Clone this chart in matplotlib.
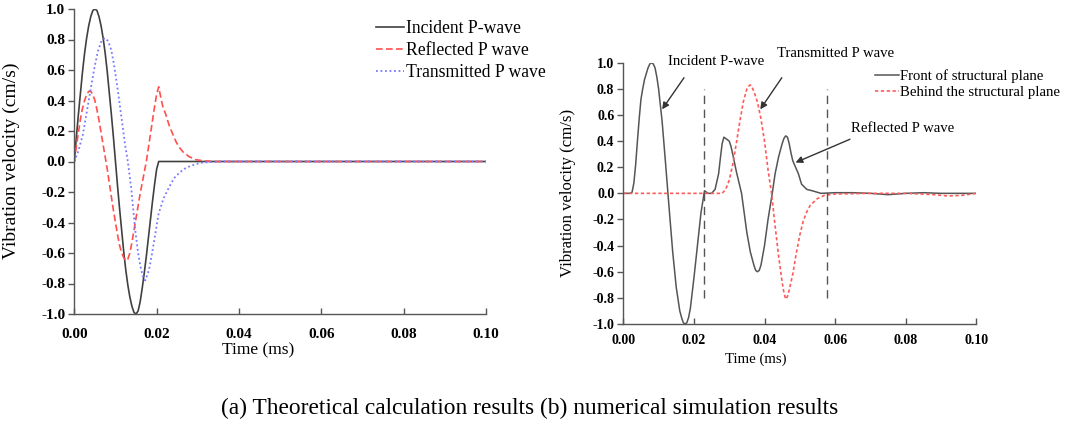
import matplotlib
matplotlib.use("Agg")
import matplotlib.pyplot as plt

plt.rcParams["font.family"] = ["Liberation Serif", "DejaVu Serif"]

# (a) theoretical calculation
t_inc = [0.0, 0.0005, 0.0010, 0.0015, 0.0020, 0.0025, 0.0030, 0.0035, 0.0040,
         0.0045, 0.0050, 0.0055, 0.0060, 0.0065, 0.0070, 0.0075, 0.0080,
         0.0085, 0.0090, 0.0095, 0.0100, 0.0105, 0.0110, 0.0115, 0.0120,
         0.0125, 0.0130, 0.0135, 0.0140, 0.0145, 0.0150, 0.0155, 0.0160,
         0.0165, 0.0170, 0.0175, 0.0180, 0.0185, 0.0190, 0.0195, 0.0200,
         0.0205, 0.1]
v_inc = [0.0, 0.16, 0.31, 0.45, 0.59, 0.71, 0.81, 0.89, 0.95,
         0.99, 1.00, 0.99, 0.95, 0.89, 0.81, 0.71, 0.59,
         0.45, 0.31, 0.16, 0.0, -0.16, -0.31, -0.45, -0.59,
         -0.71, -0.81, -0.89, -0.95, -0.99, -1.00, -0.98, -0.92,
         -0.83, -0.73, -0.62, -0.50, -0.38, -0.26, -0.15, -0.05,
         0.0, 0.0]

t_ref = [0.0, 0.0005, 0.0010, 0.0015, 0.0020, 0.0025, 0.0030, 0.0035, 0.0040,
         0.0045, 0.0050, 0.0055, 0.0060, 0.0065, 0.0070, 0.0075, 0.0080,
         0.0085, 0.0090, 0.0095, 0.0100, 0.0105, 0.0110, 0.0115, 0.0120,
         0.0125, 0.0130, 0.0135, 0.0140, 0.0145, 0.0150, 0.0155, 0.0160,
         0.0165, 0.0170, 0.0175, 0.0180, 0.0185, 0.0190, 0.0195, 0.0200,
         0.0205, 0.0210, 0.0215, 0.0222, 0.0230, 0.0239, 0.0247, 0.0255,
         0.0265, 0.0280, 0.0295, 0.0315, 0.0340, 0.1]
v_ref = [0.0, 0.10, 0.19, 0.28, 0.35, 0.40, 0.44, 0.46, 0.46,
         0.44, 0.40, 0.34, 0.27, 0.19, 0.11, 0.03, -0.05,
         -0.14, -0.23, -0.32, -0.40, -0.48, -0.55, -0.60, -0.63,
         -0.65, -0.64, -0.60, -0.53, -0.45, -0.37, -0.29, -0.21,
         -0.14, -0.07, 0.0, 0.09, 0.18, 0.27, 0.36, 0.44,
         0.49, 0.42, 0.36, 0.31, 0.24, 0.18, 0.13, 0.093,
         0.06, 0.03, 0.012, 0.004, 0.0, 0.0]

t_tra = [0.0, 0.0010, 0.0021, 0.0030, 0.0042, 0.0050, 0.0058, 0.0066, 0.0074,
         0.0082, 0.0090, 0.0098, 0.0107, 0.0115, 0.0123, 0.0130, 0.0138,
         0.0148, 0.0155, 0.0160, 0.0166, 0.0172, 0.0178, 0.0183, 0.0189,
         0.0197, 0.0205, 0.0217, 0.0230, 0.0242, 0.0254, 0.0266, 0.0279,
         0.0295, 0.0312, 0.0350, 0.1]
v_tra = [0.0, 0.07, 0.18, 0.32, 0.51, 0.63, 0.73, 0.79, 0.81,
         0.79, 0.73, 0.61, 0.44, 0.28, 0.116, 0.0, -0.17,
         -0.45, -0.60, -0.68, -0.75, -0.78, -0.74, -0.69, -0.60,
         -0.47, -0.34, -0.24, -0.17, -0.11, -0.077, -0.05, -0.033,
         -0.017, -0.007, 0.0, 0.0]

# (b) numerical simulation
t_front = [0.0, 0.0020, 0.0025, 0.0030, 0.0035, 0.0040, 0.0045, 0.0050, 0.0055,
           0.0060, 0.0070, 0.0075, 0.0080, 0.0085, 0.0090, 0.0095, 0.0100,
           0.0110, 0.0120, 0.0130, 0.0140, 0.0150, 0.0160, 0.0165, 0.0170,
           0.0175, 0.0180, 0.0185, 0.0190, 0.0200, 0.0210, 0.0220, 0.0230,
           0.0240, 0.0250, 0.0260, 0.0270, 0.0275, 0.0280, 0.0285, 0.0290,
           0.0295, 0.0300, 0.0305, 0.0310, 0.0320, 0.0335, 0.0350, 0.0360,
           0.0370, 0.0375, 0.0380, 0.0385, 0.0390, 0.0400, 0.0410, 0.0422,
           0.0430, 0.0440, 0.0450, 0.0455, 0.0460, 0.0465, 0.0470, 0.0475,
           0.0480, 0.0488, 0.0496, 0.0505, 0.0520, 0.0535, 0.0560, 0.0600,
           0.0650, 0.0700, 0.0750, 0.0800, 0.0850, 0.0900, 0.0950, 0.1000]
v_front = [0.0, 0.0, 0.01, 0.08, 0.22, 0.40, 0.57, 0.72, 0.80,
           0.87, 0.96, 0.99, 1.00, 0.99, 0.96, 0.89, 0.80,
           0.55, 0.22, -0.12, -0.45, -0.72, -0.90, -0.95, -0.99,
           -1.00, -0.99, -0.95, -0.88, -0.65, -0.40, -0.15, 0.02,
           0.0, 0.0, 0.03, 0.15, 0.27, 0.38, 0.43, 0.42,
           0.41, 0.40, 0.36, 0.30, 0.17, 0.0, -0.30, -0.45,
           -0.55, -0.59, -0.60, -0.59, -0.55, -0.40, -0.20, 0.0,
           0.15, 0.28, 0.38, 0.42, 0.44, 0.43, 0.38, 0.31,
           0.25, 0.20, 0.15, 0.07, 0.03, 0.02, 0.0, 0.005,
           0.005, 0.0, -0.01, 0.0, 0.005, 0.0, 0.0, 0.0]

t_behind = [0.0, 0.0280, 0.0290, 0.0300, 0.0310, 0.0320, 0.0330, 0.0340, 0.0350,
            0.0355, 0.0360, 0.0365, 0.0370, 0.0380, 0.0390, 0.0400, 0.0410,
            0.0420, 0.0430, 0.0440, 0.0450, 0.0455, 0.0460, 0.0465, 0.0470,
            0.0480, 0.0490, 0.0500, 0.0510, 0.0520, 0.0530, 0.0550, 0.0570,
            0.0600, 0.0700, 0.0800, 0.0880, 0.0920, 0.0960, 0.1000]
v_behind = [0.0, 0.0, 0.03, 0.10, 0.22, 0.38, 0.55, 0.70, 0.80,
            0.82, 0.83, 0.81, 0.78, 0.70, 0.57, 0.40, 0.18,
            0.0, -0.25, -0.48, -0.68, -0.76, -0.81, -0.79, -0.74,
            -0.62, -0.46, -0.32, -0.21, -0.14, -0.09, -0.04, -0.015,
            -0.005, 0.0, 0.0, -0.01, -0.02, -0.015, 0.0]

boundaries = [0.023, 0.0578]

xticks = [0.00, 0.02, 0.04, 0.06, 0.08, 0.10]
yticks = [-1.0, -0.8, -0.6, -0.4, -0.2, 0.0, 0.2, 0.4, 0.6, 0.8, 1.0]

W, H = 1065, 429
fig = plt.figure(figsize=(W / 100, H / 100), dpi=100)
ax1 = fig.add_axes([74.3 / W, 1 - 314 / H, 411.7 / W, 305 / H])
ax2 = fig.add_axes([623.3 / W, 1 - 324 / H, 353 / W, 261.3 / H])


def style_axes(ax, tick_size, xpad, xlabel_size, ylabel_size, xlab, ylab):
    ax.set_xlim(0, 0.1)
    ax.set_ylim(-1, 1)
    ax.set_xticks(xticks)
    ax.set_yticks(yticks)
    ax.set_xticklabels(["%.2f" % v for v in xticks], fontweight="bold",
                       fontsize=tick_size)
    ax.set_yticklabels(["%.1f" % v for v in yticks], fontweight="bold",
                       fontsize=tick_size)
    for s in ["top", "right"]:
        ax.spines[s].set_visible(False)
    for s in ["left", "bottom"]:
        ax.spines[s].set_color("#555555")
        ax.spines[s].set_linewidth(1.0)
    ax.tick_params(axis="y", direction="out", length=4, width=1,
                   color="#555555", pad=2.5)
    ax.tick_params(axis="x", direction="in", length=4, width=1,
                   color="#555555", pad=xpad)
    ax.set_xlabel("Time (ms)", fontsize=xlabel_size)
    ax.set_ylabel("Vibration velocity (cm/s)", fontsize=ylabel_size)
    ax.xaxis.set_label_coords(*xlab)
    ax.yaxis.set_label_coords(*ylab)
    ax.xaxis.label.set_va("center")
    ax.yaxis.label.set_va("center")


# left panel
ax1.plot(t_inc, v_inc, color="#404040", lw=1.2, label="Incident P-wave")
ax1.plot(t_ref, v_ref, color="#ff4f4f", lw=1.2, ls=(0, (4, 2)),
         label="Reflected P wave")
ax1.plot(t_tra, v_tra, color="#7878ff", lw=1.3, ls=(0, (1, 1.5)),
         label="Transmitted P wave")
style_axes(ax1, 11, 10, 12.5, 14, (0.447, -0.12), (-0.154, 0.502))
ax1.legend(loc="upper left", bbox_to_anchor=(376 / W, 1 - 20 / H),
           bbox_transform=fig.transFigure, frameon=False, fontsize=12.7,
           handlelength=1.6, handletextpad=0.1, labelspacing=0.28,
           borderpad=0, borderaxespad=0)

# right panel
ax2.plot(t_front, v_front, color="#555555", lw=1.1,
         label="Front of structural plane")
ax2.plot(t_behind, v_behind, color="#ff5a5a", lw=1.2, ls=(0, (2, 1.5)),
         label="Behind the structural plane")
for b in boundaries:
    ax2.plot([b, b], [-0.8, 0.8], color="#555555", lw=1.0, ls=(0, (6, 4)))
style_axes(ax2, 10, 7, 10.6, 12.1, (0.375, -0.135), (-0.158, 0.503))
ax2.legend(loc="upper left", bbox_to_anchor=(875 / W, 1 - 69 / H),
           bbox_transform=fig.transFigure, frameon=False, fontsize=10.6,
           handlelength=1.6, handletextpad=0.1, labelspacing=0.18,
           borderpad=0, borderaxespad=0)

arrow = dict(arrowstyle="-|>", color="#333333", lw=1.0,
             mutation_scale=10, shrinkA=0, shrinkB=0)
notes = [
    ("Incident P-wave", (0.0264, 1.008), (0.0172, 0.885), (0.011, 0.643)),
    ("Transmitted P wave", (0.0600, 1.067), (0.0449, 0.885), (0.0388, 0.643)),
    ("Reflected P wave", (0.0790, 0.498), (0.0642, 0.414), (0.0488, 0.236)),
]
for text, pos, tail, tip in notes:
    ax2.text(pos[0], pos[1], text, fontsize=10.6, ha="center", va="center",
             clip_on=False)
    ax2.annotate("", xy=tip, xytext=tail, arrowprops=arrow)

fig.text(530 / W, 1 - 408 / H,
         "(a) Theoretical calculation results (b) numerical simulation results",
         ha="center", va="center", fontsize=16.8)

fig.savefig("out.png", dpi=100)
